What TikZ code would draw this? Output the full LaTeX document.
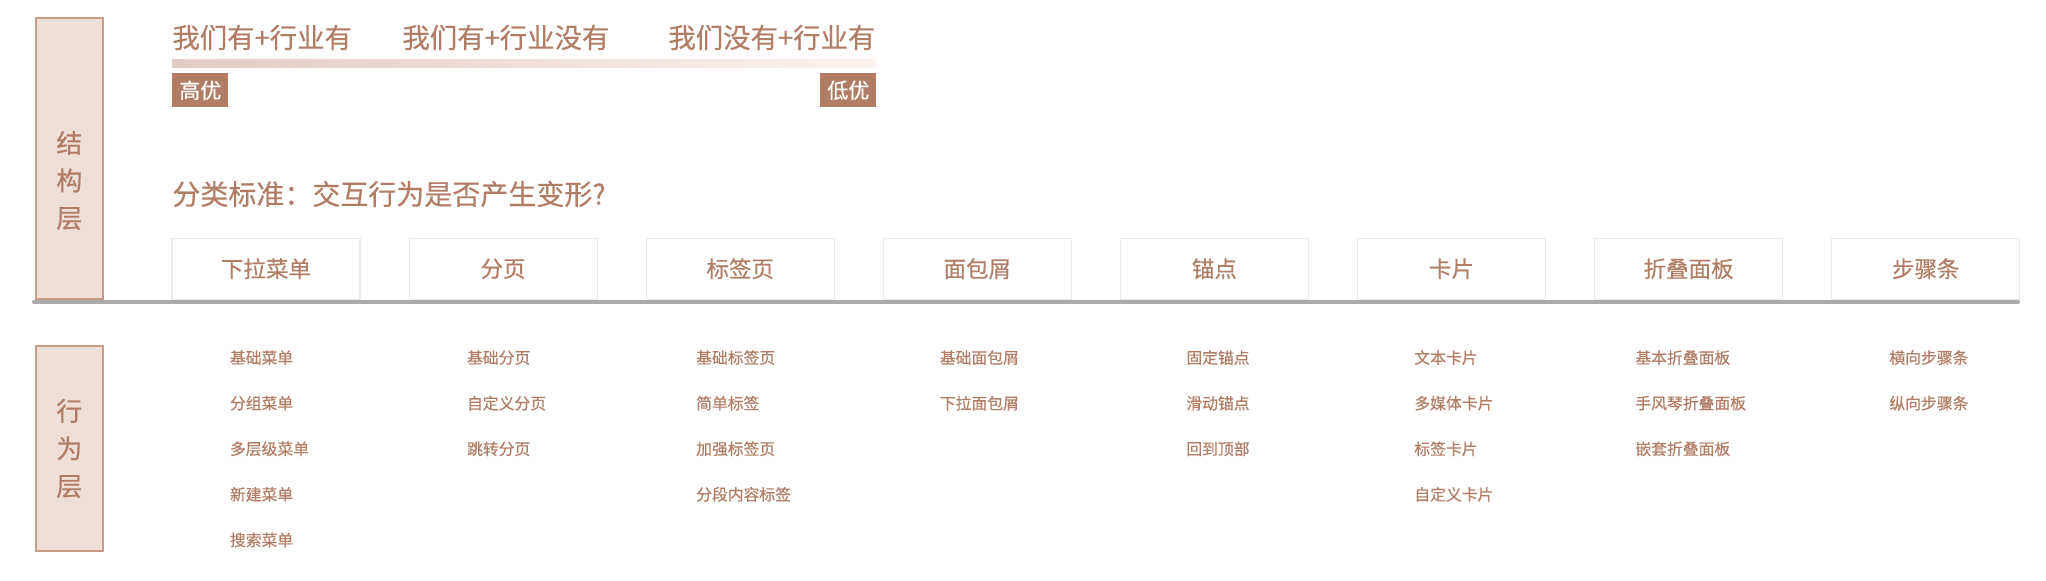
\documentclass[tikz,border=0pt]{standalone}
\usepackage{fontspec}
\setmainfont{Noto Sans CJK SC}[FakeBold=0.4]
\usepackage{xcolor}
\usetikzlibrary{calc, positioning}
\definecolor{Bronze}{HTML}{B27D67}
\definecolor{LayerFill}{HTML}{EEDFD8}
\definecolor{LayerLine}{HTML}{C99C8A}
\definecolor{BarLeft}{HTML}{E2CCC3}
\definecolor{BarRight}{HTML}{FDF3EE}
\definecolor{CatLine}{HTML}{EBEBEB}
\tikzset{
  layerbox/.style={draw=LayerLine, fill=LayerFill, line width=1pt, inner sep=0pt, minimum width=33.5pt},
  layertext/.style={text=Bronze, align=center, font=\fontsize{13}{18.75}\selectfont},
  headtext/.style={text=Bronze, anchor=west, inner sep=0pt, font=\fontsize{13.7}{16}\selectfont},
  tagbox/.style={fill=Bronze, text=white, inner sep=0pt, minimum width=28pt, minimum height=17pt, font=\fontsize{10.5}{12}\selectfont},
  catbox/.style={draw=CatLine, line width=0.6pt, text=Bronze, minimum width=94pt, minimum height=30.5pt, font=\fontsize{11.25}{13}\selectfont},
  itemtext/.style={text=Bronze, anchor=west, inner sep=0pt, font=\fontsize{7.9}{10}\selectfont}
}

\begin{document}
\begin{tikzpicture}[x=0.5pt, y=-0.5pt]
    \useasboundingbox (0,0) rectangle (2046,580);

    % layers
    \node [layerbox, minimum height=140.5pt] (struct) at (69.3, 158.5) {};
    \node [layertext] (structlabel) at (69.3, 180.5) {结\\构\\层};
    \node [layerbox, minimum height=102.5pt] (behave) at (69.3, 448.5) {};
    \node [layertext] (behavelabel) at (behave) {行\\为\\层};
    \draw [line width=2pt, color=black!33, line cap=round] (34, 302) -- (2018, 302);

    % priority
    \node [headtext] (h1) at (172, 37.5) {我们有+行业有};
    \node [headtext] (h2) at (402, 37.5) {我们有+行业没有};
    \node [headtext] (h3) at (668, 37.5) {我们没有+行业有};
    \shade [left color=BarLeft, right color=BarRight] (172, 59) rectangle (876, 67.5);
    \node [tagbox] (high) at (200.3, 90.3) {高优};
    \node [tagbox] (low) at (848.3, 90.3) {低优};

    \node [headtext, font=\fontsize{14}{16}\selectfont] (rule) at (172, 194) {分类标准：交互行为是否产生变形?};

    % structure row
    \foreach \name [count=\i from 0] in {下拉菜单, 分页, 标签页, 面包屑, 锚点, 卡片, 折叠面板, 步骤条}
        \node [catbox] (cat\i) at (266+237.1*\i, 268.7) {\name};

    % behaviour columns
    \foreach \col/\x/\items in {
        0/229.6/{基础菜单, 分组菜单, 多层级菜单, 新建菜单, 搜索菜单},
        1/466.7/{基础分页, 自定义分页, 跳转分页},
        2/695.8/{基础标签页, 简单标签, 加强标签页, 分段内容标签},
        3/939.5/{基础面包屑, 下拉面包屑},
        4/1186/{固定锚点, 滑动锚点, 回到顶部},
        5/1414/{文本卡片, 多媒体卡片, 标签卡片, 自定义卡片},
        6/1635/{基本折叠面板, 手风琴折叠面板, 嵌套折叠面板},
        7/1889/{横向步骤条, 纵向步骤条}}
        \foreach \item [count=\j from 0] in \items
            \node [itemtext] (item\col-\j) at (\x, 357.6+45.6*\j) {\item};
\end{tikzpicture}
\end{document}
